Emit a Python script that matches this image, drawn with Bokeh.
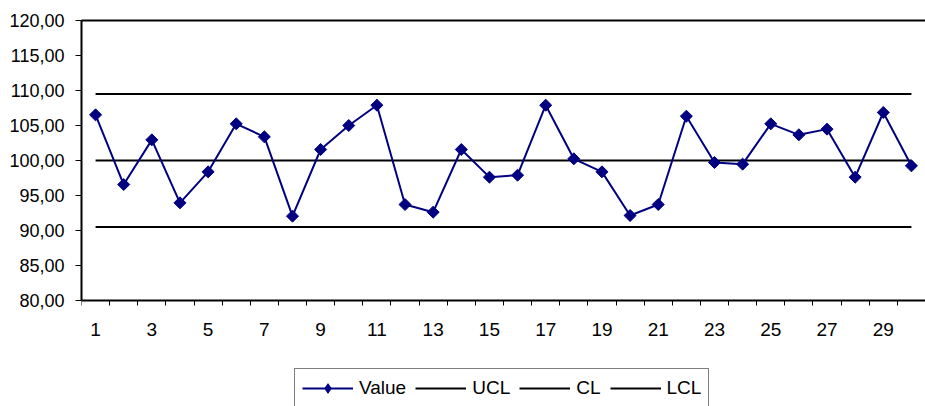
import numpy as np
from bokeh.plotting import figure
from bokeh.models import (Range1d, FixedTicker, LinearAxis, Legend, LegendItem,
                          ColumnDataSource)
from bokeh.embed import file_html
from bokeh.resources import INLINE

# Individual measurements with their control limits
samples = list(range(1, 31))
values = [106.52, 96.57, 102.95, 93.95, 98.38, 105.24, 103.38, 92.05, 101.57, 105.00,
          107.90, 93.71, 92.62, 101.57, 97.62, 97.90, 107.90, 100.24, 98.38, 92.14,
          93.71, 106.33, 99.71, 99.48, 105.24, 103.67, 104.48, 97.62, 106.86, 99.24]
UCL = 109.5
CL = 100.0
LCL = 90.5

Y_MIN, Y_MAX = 80, 120
y_ticks = [80, 85, 90, 95, 100, 105, 110, 115, 120]
y_tick_labels = {t: f"{t},00" for t in y_ticks}
x_tick_labels = list(range(1, 31, 2))

FONT = "Liberation Sans"
NAVY = "#000080"

W, H = 925, 406
TOP, LEFT = 20, 81
PLOT_H = 280  # pixel height of the 80..120 band
frame_h = H - TOP
# the frame runs to the bottom of the page so the legend can sit under the axis
y_view_min = Y_MAX - (Y_MAX - Y_MIN) * frame_h / PLOT_H

p = figure(width=W, height=H, output_backend="svg", toolbar_location=None,
           x_range=Range1d(0.5, 30.5), y_range=Range1d(y_view_min, Y_MAX),
           min_border_left=LEFT, min_border_right=0, min_border_top=TOP,
           min_border_bottom=0)
p.outline_line_color = None
p.grid.visible = False
p.background_fill_color = "white"
p.border_fill_color = "white"

n = len(samples)
ucl_r = p.line(samples, [UCL] * n, line_color="black", line_width=2)
cl_r = p.line(samples, [CL] * n, line_color="black", line_width=2)
lcl_r = p.line(samples, [LCL] * n, line_color="black", line_width=2)
val_line = p.line(samples, values, line_color=NAVY, line_width=2)
val_pts = p.scatter(samples, values, marker="square", angle=np.pi / 4, size=8.5,
                    fill_color=NAVY, line_color=NAVY, line_width=1)
# diamond swatch used for the legend entry only (a single NaN point, never drawn)
val_key = p.scatter(x="x", y="y",
                    source=ColumnDataSource(data=dict(x=[np.nan], y=[np.nan])),
                    marker="diamond", size=13, fill_color=NAVY, line_color=NAVY,
                    line_width=1)

# y axis
ya = p.yaxis[0]
ya.bounds = (Y_MIN, Y_MAX)
ya.ticker = FixedTicker(ticks=y_ticks)
ya.major_label_overrides = y_tick_labels
ya.major_label_text_font = FONT
ya.major_label_text_font_size = "18px"
ya.major_label_text_color = "black"
ya.major_tick_in = 0
ya.major_tick_out = 6
ya.major_tick_line_color = "black"
ya.minor_tick_line_color = None
ya.axis_line_width = 2
ya.axis_line_color = "black"
ya.major_label_standoff = 11

# x axis at y = 80: labels on odd samples, ticks between samples
xa = p.xaxis[0]
xa.fixed_location = Y_MIN
xa.ticker = FixedTicker(ticks=x_tick_labels,
                        minor_ticks=[s - 0.5 for s in samples] + [samples[-1] + 0.5])
xa.major_tick_in = 0
xa.major_tick_out = 0
xa.major_tick_line_color = None
xa.minor_tick_in = 0
xa.minor_tick_out = 5
xa.minor_tick_line_color = "black"
xa.axis_line_width = 2
xa.axis_line_color = "black"
xa.major_label_text_font = FONT
xa.major_label_text_font_size = "19px"
xa.major_label_text_color = "black"
xa.major_label_standoff = 17

# top border line of the plot area
top = LinearAxis(ticker=FixedTicker(ticks=[]), axis_line_width=2, axis_line_color="black",
                 major_tick_line_color=None, minor_tick_line_color=None,
                 major_label_text_font_size="0px")
p.add_layout(top, "above")

legend = Legend(items=[
    LegendItem(label="Value", renderers=[val_line, val_key]),
    LegendItem(label="UCL", renderers=[ucl_r]),
    LegendItem(label="CL", renderers=[cl_r]),
    LegendItem(label="LCL", renderers=[lcl_r]),
], orientation="horizontal", location=(213, -2))
legend.label_text_font = FONT
legend.label_text_font_size = "19px"
legend.label_text_color = "black"
legend.glyph_width = 51
legend.glyph_height = 24
legend.label_height = 24
legend.label_standoff = 6
legend.spacing = 9
legend.padding = 7
legend.margin = 0
legend.border_line_color = "black"
legend.border_line_width = 1
legend.background_fill_color = "white"
legend.background_fill_alpha = 1
p.add_layout(legend, "center")

open("out.html", "w").write(file_html(p, INLINE))
